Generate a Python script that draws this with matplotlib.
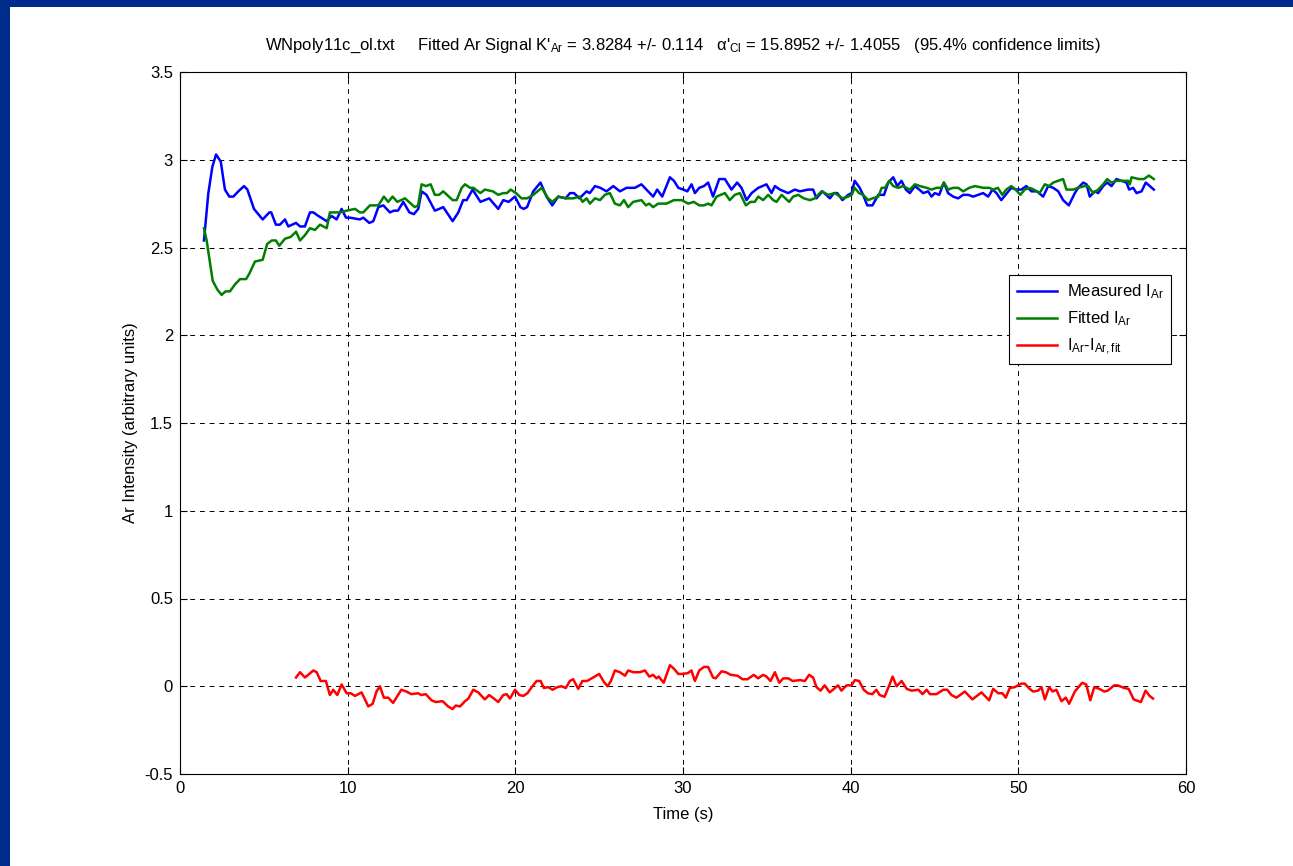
import matplotlib
matplotlib.use("Agg")
import matplotlib.pyplot as plt
from matplotlib.patches import Rectangle
from matplotlib.ticker import FormatStrFormatter

plt.rcParams["font.family"] = ["Liberation Sans", "DejaVu Sans"]
plt.rcParams["mathtext.fontset"] = "custom"
plt.rcParams["mathtext.rm"] = "Liberation Sans"
plt.rcParams["mathtext.it"] = "Liberation Sans:italic"

# measured Ar signal
t_meas = [1.43, 1.69, 1.93, 2.15, 2.43, 2.68, 2.94, 3.18, 3.48, 3.82, 4.02, 4.41, 4.93, 5.33, 5.44,
          5.72, 5.96, 6.26, 6.46, 6.92, 7.16, 7.45, 7.75, 7.95, 8.25, 8.75, 9.04, 9.34, 9.64, 9.90,
          10.13, 10.73, 10.93, 11.29, 11.53, 11.83, 12.13, 12.52, 12.76, 13.00, 13.32, 13.68, 13.95,
          14.21, 14.41, 14.70, 15.20, 15.46, 15.70, 16.26, 16.60, 16.89, 17.10, 17.45, 17.92, 18.44,
          18.98, 19.28, 19.60, 19.98, 20.30, 20.50, 20.70, 21.07, 21.50, 21.86, 22.20, 22.56, 23.00,
          23.26, 23.50, 23.82, 24.25, 24.44, 24.75, 25.07, 25.44, 25.84, 26.24, 26.63, 27.13, 27.52,
          27.82, 28.22, 28.46, 28.76, 29.22, 29.46, 29.72, 30.02, 30.26, 30.51, 30.71, 30.97, 31.25,
          31.50, 31.79, 32.16, 32.50, 32.89, 33.23, 33.49, 33.79, 34.09, 34.49, 34.98, 35.28, 35.48,
          35.78, 36.27, 36.67, 36.97, 37.47, 37.76, 37.96, 38.32, 38.76, 39.00, 39.20, 39.51, 39.85,
          40.06, 40.24, 40.54, 40.74, 40.99, 41.30, 41.65, 41.99, 42.24, 42.54, 42.78, 43.03, 43.29,
          43.53, 43.83, 44.09, 44.33, 44.62, 44.82, 45.02, 45.28, 45.56, 45.81, 46.11, 46.41, 46.71,
          47.01, 47.31, 47.61, 47.90, 48.20, 48.46, 48.70, 48.98, 49.24, 49.58, 49.88, 50.18, 50.48,
          50.78, 51.11, 51.48, 51.78, 52.08, 52.38, 52.67, 53.01, 53.37, 53.57, 53.87, 54.07, 54.26,
          54.56, 54.76, 55.06, 55.30, 55.56, 55.85, 56.15, 56.45, 56.61, 56.85, 57.05, 57.35, 57.60,
          57.84, 58.08]
i_meas = [2.54, 2.81, 2.96, 3.03, 2.99, 2.83, 2.79, 2.79, 2.82, 2.85, 2.83, 2.72, 2.66, 2.70, 2.70,
          2.63, 2.63, 2.66, 2.62, 2.64, 2.62, 2.62, 2.70, 2.70, 2.68, 2.65, 2.68, 2.66, 2.72, 2.67,
          2.67, 2.66, 2.67, 2.64, 2.65, 2.73, 2.74, 2.70, 2.71, 2.71, 2.76, 2.70, 2.69,
          2.72, 2.82, 2.80, 2.71, 2.72, 2.73, 2.65, 2.70, 2.77, 2.77, 2.83, 2.76, 2.78,
          2.72, 2.77, 2.76, 2.79, 2.73, 2.72, 2.73, 2.82, 2.87, 2.79, 2.74, 2.79, 2.78,
          2.81, 2.81, 2.78, 2.82, 2.81, 2.85, 2.84, 2.82, 2.85, 2.82, 2.84, 2.84, 2.86,
          2.83, 2.79, 2.83, 2.79, 2.90, 2.88, 2.84, 2.83, 2.82, 2.86, 2.81, 2.84, 2.85,
          2.87, 2.79, 2.89, 2.89, 2.83, 2.87, 2.84, 2.77, 2.81, 2.84, 2.86, 2.81, 2.85,
          2.83, 2.81, 2.83, 2.82, 2.83, 2.83, 2.78, 2.82, 2.78, 2.81, 2.81, 2.77, 2.80,
          2.81, 2.88, 2.84, 2.80, 2.74, 2.74, 2.80, 2.80, 2.87, 2.90, 2.85, 2.88, 2.83,
          2.81, 2.85, 2.83, 2.81, 2.82, 2.79, 2.81, 2.80, 2.87, 2.81, 2.79, 2.78, 2.80,
          2.80, 2.79, 2.80, 2.81, 2.79, 2.83, 2.81, 2.77, 2.80, 2.84, 2.83, 2.83, 2.85,
          2.82, 2.82, 2.79, 2.85, 2.84, 2.82, 2.77, 2.74, 2.81, 2.84, 2.87, 2.86, 2.79,
          2.82, 2.81, 2.85, 2.87, 2.85, 2.89, 2.88, 2.87, 2.83, 2.84, 2.81, 2.82, 2.87,
          2.85, 2.83]

# fitted Ar signal
t_fit = [1.43, 1.59, 1.95, 2.23, 2.48, 2.72, 2.98, 3.28, 3.58, 3.94, 4.13, 4.47, 4.93, 5.20, 5.47,
         5.72, 5.92, 6.26, 6.60, 6.92, 7.16, 7.45, 7.75, 8.05, 8.35, 8.75, 8.94, 9.54, 9.94, 10.44,
         10.73, 10.93, 11.33, 11.83, 12.16, 12.42, 12.68, 12.96, 13.42, 14.00, 14.20, 14.41, 14.67,
         14.95, 15.20, 15.45, 15.70, 16.26, 16.50, 16.80, 17.00, 17.30, 17.50, 17.92, 18.18, 18.66,
         18.98, 19.28, 19.50, 19.72, 20.04, 20.37, 20.70, 21.07, 21.57, 21.96, 22.21, 22.56, 23.06,
         23.46, 23.82, 24.01, 24.25, 24.45, 24.75, 25.05, 25.34, 25.64, 25.94, 26.24, 26.48, 26.73,
         27.03, 27.52, 27.79, 27.98, 28.22, 28.52, 29.01, 29.46, 29.92, 30.31, 30.64, 30.97, 31.25,
         31.50, 31.70, 32.00, 32.50, 32.79, 33.09, 33.39, 33.75, 34.03, 34.28, 34.49, 34.78, 35.08,
         35.38, 35.58, 35.88, 36.33, 36.57, 36.87, 37.21, 37.57, 37.86, 38.26, 38.66, 39.06, 39.51,
         39.85, 40.06, 40.24, 40.50, 40.74, 41.05, 41.30, 41.65, 41.85, 42.05, 42.30, 42.54, 42.84,
         43.13, 43.53, 43.83, 44.13, 44.53, 44.82, 45.12, 45.40, 45.56, 45.81, 46.11, 46.41, 46.71,
         47.07, 47.41, 47.90, 48.26, 48.50, 48.78, 49.04, 49.28, 49.58, 49.84, 50.12, 50.38, 50.68,
         50.92, 51.27, 51.58, 51.84, 52.08, 52.38, 52.67, 52.87, 53.27, 53.57, 53.96, 54.16, 54.46,
         54.76, 55.06, 55.30, 55.56, 55.85, 56.25, 56.55, 56.65, 56.75, 57.20, 57.49, 57.79, 58.08]
i_fit = [2.61, 2.54, 2.31, 2.26, 2.23, 2.25, 2.25, 2.29, 2.32, 2.32, 2.35, 2.42, 2.43, 2.52, 2.54,
         2.54, 2.51, 2.55, 2.56, 2.59, 2.54, 2.57, 2.61, 2.60, 2.63, 2.61, 2.70, 2.70, 2.71, 2.72,
         2.70, 2.70, 2.74, 2.74, 2.79, 2.76, 2.79, 2.76, 2.78, 2.73, 2.74, 2.86, 2.85,
         2.86, 2.80, 2.80, 2.82, 2.77, 2.77, 2.84, 2.86, 2.84, 2.84, 2.81, 2.83, 2.82,
         2.80, 2.81, 2.81, 2.83, 2.81, 2.78, 2.78, 2.80, 2.84, 2.78, 2.76, 2.79, 2.78,
         2.78, 2.79, 2.76, 2.78, 2.75, 2.78, 2.77, 2.80, 2.81, 2.75, 2.74, 2.77, 2.73,
         2.76, 2.77, 2.74, 2.75, 2.73, 2.75, 2.75, 2.77, 2.77, 2.75, 2.76, 2.74, 2.74,
         2.75, 2.74, 2.79, 2.81, 2.77, 2.80, 2.81, 2.74, 2.76, 2.76, 2.79, 2.77, 2.80,
         2.77, 2.76, 2.80, 2.76, 2.79, 2.80, 2.78, 2.77, 2.78, 2.82, 2.80, 2.81, 2.78,
         2.79, 2.80, 2.84, 2.81, 2.80, 2.77, 2.78, 2.79, 2.84, 2.84, 2.88, 2.85, 2.84,
         2.85, 2.83, 2.86, 2.85, 2.84, 2.83, 2.84, 2.84, 2.87, 2.83, 2.84, 2.84, 2.82,
         2.84, 2.85, 2.84, 2.84, 2.83, 2.84, 2.80, 2.83, 2.85, 2.83, 2.80, 2.83, 2.84,
         2.83, 2.81, 2.86, 2.85, 2.87, 2.88, 2.89, 2.83, 2.83, 2.84, 2.85, 2.85, 2.81,
         2.83, 2.86, 2.89, 2.87, 2.88, 2.88, 2.88, 2.86, 2.90, 2.89, 2.89, 2.91, 2.89]

# residual I_Ar - I_Ar,fit
t_res = [6.92, 7.16, 7.45, 7.65, 7.95, 8.15, 8.39, 8.70, 8.94, 9.14, 9.38, 9.64, 9.94, 10.18, 10.44,
         10.83, 11.23, 11.49, 11.72, 11.92, 12.16, 12.42, 12.71, 13.20, 13.50, 13.80, 14.20, 14.40,
         14.66, 15.00, 15.26, 15.66, 15.99, 16.25, 16.45, 16.70, 17.00, 17.20, 17.49, 17.79, 18.18,
         18.44, 18.72, 18.98, 19.28, 19.48, 19.68, 19.98, 20.24, 20.48, 20.72, 20.98, 21.27, 21.51,
         21.70, 21.96, 22.22, 22.50, 22.76, 23.01, 23.25, 23.45, 23.75, 24.00, 24.28, 24.64, 25.00,
         25.28, 25.50, 25.70, 25.94, 26.24, 26.54, 26.73, 27.03, 27.43, 27.73, 27.99, 28.22, 28.42,
         28.55, 28.85, 29.22, 29.46, 29.72, 29.98, 30.30, 30.50, 30.71, 30.97, 31.25, 31.50, 31.79,
         31.95, 32.30, 32.55, 32.85, 33.25, 33.55, 33.85, 34.22, 34.48, 34.78, 34.98, 35.22, 35.48,
         35.74, 35.98, 36.28, 36.54, 36.98, 37.27, 37.52, 37.76, 37.96, 38.20, 38.45, 38.75, 39.25,
         39.45, 39.75, 40.05, 40.25, 40.50, 40.78, 41.03, 41.29, 41.53, 41.73, 42.02, 42.28, 42.50,
         42.74, 43.04, 43.34, 43.64, 44.04, 44.29, 44.53, 44.73, 45.12, 45.52, 45.76, 46.01, 46.31,
         46.81, 47.26, 47.80, 48.26, 48.50, 48.80, 49.05, 49.25, 49.49, 49.79, 50.18, 50.38, 50.68,
         50.88, 51.18, 51.38, 51.58, 51.84, 52.04, 52.27, 52.57, 52.83, 53.03, 53.37, 53.81, 54.05,
         54.29, 54.53, 54.83, 55.13, 55.33, 55.72, 55.92, 56.32, 56.58, 56.88, 57.31, 57.59, 57.83,
         58.03]
i_res = [0.05, 0.08, 0.05, 0.065, 0.09, 0.08, 0.03, 0.03, -0.05, -0.02, -0.05, 0.01, -0.04, -0.04, -0.055,
         -0.035, -0.115, -0.10, -0.03, 0.0, -0.065, -0.065, -0.095, -0.02, -0.03, -0.045, -0.04, -0.05,
         -0.045, -0.08, -0.09, -0.085, -0.115, -0.13, -0.11, -0.115, -0.085, -0.07, -0.02, -0.035, -0.075,
         -0.05, -0.07, -0.09, -0.05, -0.045, -0.07, -0.02, -0.05, -0.055, -0.04, -0.005, 0.03, 0.03,
         -0.01, -0.005, -0.02, -0.005, 0.0, -0.01, 0.03, 0.04, -0.015, 0.03, 0.03, 0.05, 0.07,
         0.025, 0.0, 0.03, 0.09, 0.08, 0.06, 0.09, 0.08, 0.08, 0.09, 0.055, 0.065, 0.045,
         0.055, 0.02, 0.12, 0.10, 0.07, 0.07, 0.075, 0.09, 0.03, 0.09, 0.11, 0.11, 0.05,
         0.045, 0.085, 0.08, 0.065, 0.06, 0.04, 0.04, 0.065, 0.045, 0.065, 0.055, 0.03, 0.08,
         0.02, 0.045, 0.045, 0.03, 0.035, 0.03, 0.065, 0.05, -0.005, -0.025, 0.005, -0.035, 0.005,
         -0.025, 0.005, 0.005, 0.035, 0.03, -0.02, -0.04, -0.045, -0.02, -0.05, -0.06, 0.0, 0.055,
         0.0, 0.03, -0.015, -0.025, -0.02, -0.045, -0.02, -0.045, -0.045, -0.02, -0.02, -0.05, -0.065,
         -0.03, -0.075, -0.035, -0.08, -0.015, -0.04, -0.04, -0.065, -0.01, -0.005, 0.015, 0.015, -0.015,
         -0.03, -0.025, -0.005, -0.075, -0.005, -0.03, -0.02, -0.085, -0.065, -0.10, -0.03, 0.02, 0.01,
         -0.08, -0.005, -0.015, -0.03, -0.025, 0.005, 0.005, -0.01, -0.015, -0.075, -0.09, -0.025, -0.055,
         -0.07]

x_ticks = [0, 10, 20, 30, 40, 50, 60]
y_ticks = [-0.5, 0, 0.5, 1, 1.5, 2, 2.5, 3, 3.5]

title = ("WNpoly11c_ol.txt     Fitted Ar Signal K'$_{\\mathrm{Ar}}$ = 3.8284 +/- 0.114   "
         "α'$_{\\mathrm{Cl}}$ = 15.8952 +/- 1.4055   (95.4% confidence limits)")

fig = plt.figure(figsize=(12.93, 8.66), dpi=100)
fig.patch.set_facecolor("white")
navy = "#002D8C"
fig.patches.append(Rectangle((0, 1 - 7 / 866), 1, 7 / 866, transform=fig.transFigure,
                             facecolor=navy, edgecolor="none", zorder=0))
fig.patches.append(Rectangle((0, 0), 10 / 1293, 1, transform=fig.transFigure,
                             facecolor=navy, edgecolor="none", zorder=0))

ax = fig.add_axes([180 / 1293, 1 - 774 / 866, 1006 / 1293, 702 / 866])

ax.plot(t_meas, i_meas, color="#0000FF", lw=1.8, label="Measured I$_{\\mathrm{Ar}}$")
ax.plot(t_fit, i_fit, color="#007F00", lw=1.8, label="Fitted I$_{\\mathrm{Ar}}$")
ax.plot(t_res, i_res, color="#FF0000", lw=1.8, label="I$_{\\mathrm{Ar}}$-I$_{\\mathrm{Ar,fit}}$")

ax.set_xlim(0, 60)
ax.set_ylim(-0.5, 3.5)
ax.set_xticks(x_ticks)
ax.set_yticks(y_ticks)
ax.yaxis.set_major_formatter(FormatStrFormatter("%g"))
ax.tick_params(direction="in", top=True, right=True, labelsize=12, length=5, width=0.8, pad=5)
ax.grid(True, color="black", linestyle=(0, (5, 5)), linewidth=0.7)
for s in ax.spines.values():
    s.set_linewidth(0.8)

ax.set_xlabel("Time (s)", fontsize=12, labelpad=8)
ax.set_ylabel("Ar Intensity (arbitrary units)", fontsize=12, labelpad=5)
ax.set_title(title, fontsize=12, pad=16)

leg = ax.legend(loc="upper right", bbox_to_anchor=(0.985, 0.711), fontsize=12,
                fancybox=False, framealpha=1, edgecolor="black", handlelength=2.4,
                handletextpad=0.6, borderaxespad=0, labelspacing=0.5, borderpad=0.45)
leg.get_frame().set_linewidth(0.8)

fig.savefig("out.png", dpi=100)
